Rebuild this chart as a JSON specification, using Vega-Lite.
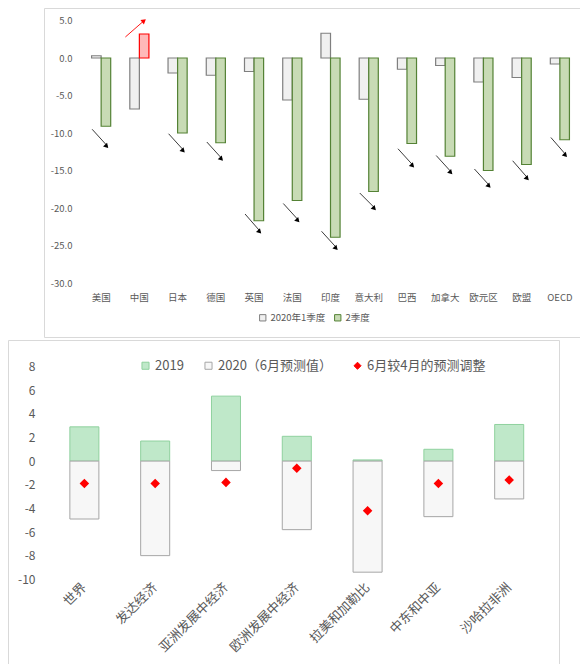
{
  "$schema": "https://vega.github.io/schema/vega-lite/v6.json",
  "padding": {"left": 7, "top": 7, "right": 0, "bottom": 0},
  "background": "white",
  "spacing": 1,
  "config": {
    "font": "Noto Sans CJK SC",
    "view": {"stroke": "#d9d9d9", "strokeWidth": 1},
    "axis": {"labelFont": "Noto Sans CJK SC", "labelColor": "#595959", "domain": false, "ticks": false, "tickSize": 0, "grid": false, "title": null, "labelOverlap": false},
    "axisY": {"labelOverlap": false},
    "axisQuantitative": {"labelOverlap": false},
    "legend": {"labelFont": "Noto Sans CJK SC", "labelColor": "#595959", "symbolType": "square", "symbolStrokeWidth": 1}
  },
  "resolve": {"scale": {"fill": "independent", "stroke": "independent", "shape": "independent"}, "legend": {"fill": "independent", "stroke": "independent", "shape": "independent"}},
  "vconcat": [
    {
      "spacing": 0,
      "hconcat": [
        {"width": 35, "height": 10, "data": {"values": []}, "mark": {"type": "point", "opacity": 0}, "encoding": {}, "view": {"stroke": null}},
        {
          "width": 537,
          "height": 329,
          "data": {"values": [
            {"country": "美国", "quarter": "2020年1季度", "value": 0.3},
            {"country": "美国", "quarter": "2季度", "value": -9.1},
            {"country": "中国", "quarter": "2020年1季度", "value": -6.8},
            {"country": "中国", "quarter": "2季度", "value": 3.2},
            {"country": "日本", "quarter": "2020年1季度", "value": -2.0},
            {"country": "日本", "quarter": "2季度", "value": -10.0},
            {"country": "德国", "quarter": "2020年1季度", "value": -2.3},
            {"country": "德国", "quarter": "2季度", "value": -11.3},
            {"country": "英国", "quarter": "2020年1季度", "value": -1.8},
            {"country": "英国", "quarter": "2季度", "value": -21.7},
            {"country": "法国", "quarter": "2020年1季度", "value": -5.6},
            {"country": "法国", "quarter": "2季度", "value": -19.0},
            {"country": "印度", "quarter": "2020年1季度", "value": 3.3},
            {"country": "印度", "quarter": "2季度", "value": -23.9},
            {"country": "意大利", "quarter": "2020年1季度", "value": -5.5},
            {"country": "意大利", "quarter": "2季度", "value": -17.8},
            {"country": "巴西", "quarter": "2020年1季度", "value": -1.5},
            {"country": "巴西", "quarter": "2季度", "value": -11.4},
            {"country": "加拿大", "quarter": "2020年1季度", "value": -1.0},
            {"country": "加拿大", "quarter": "2季度", "value": -13.1},
            {"country": "欧元区", "quarter": "2020年1季度", "value": -3.2},
            {"country": "欧元区", "quarter": "2季度", "value": -15.0},
            {"country": "欧盟", "quarter": "2020年1季度", "value": -2.6},
            {"country": "欧盟", "quarter": "2季度", "value": -14.2},
            {"country": "OECD", "quarter": "2020年1季度", "value": -0.8},
            {"country": "OECD", "quarter": "2季度", "value": -10.9}
          ]},
          "layer": [
            {
              "mark": {"type": "bar", "color": "#d9d9d9", "strokeWidth": 1, "width": {"band": 1}},
              "encoding": {
                "x": {"field": "country", "type": "nominal", "sort": null},
                "y": {"datum": 0, "type": "quantitative"},
                "y2": {"datum": 0}
              }
            },
            {
              "mark": {"type": "bar", "strokeWidth": 1.2},
              "encoding": {
                "x": {"field": "country", "type": "nominal", "sort": null,
                  "scale": {"paddingInner": 0, "paddingOuter": 0.5235, "align": 0.95},
                  "axis": {"labelAngle": 0, "labelAlign": "center", "labelBaseline": "top", "labelFontSize": 9.5, "offset": -45, "labelPadding": 0}},
                "xOffset": {"field": "quarter", "type": "nominal", "sort": ["2020年1季度", "2季度"], "scale": {"paddingInner": 0, "paddingOuter": 1.124}},
                "y": {"field": "value", "type": "quantitative",
                  "scale": {"domain": [-37.2, 6.667], "nice": false, "zero": false},
                  "axis": {"values": [5, 0, -5, -10, -15, -20, -25, -30], "labelExpr": "datum.value === 0 ? '0.0' : toString(datum.value) + '.0'", "offset": -32, "labelPadding": 4, "labelFontSize": 9.5, "labelOverlap": false}},
                "fill": {
                  "condition": {"test": "datum.country === '中国' && datum.quarter === '2季度'", "value": "#ffb8b8"},
                  "field": "quarter", "type": "nominal",
                  "scale": {"domain": ["2020年1季度", "2季度"], "range": ["#f0f0f0", "#c8dbb5"]},
                  "legend": {"orient": "none", "legendX": 250, "legendY": 305, "direction": "horizontal", "title": null, "labelFontSize": 9.5, "symbolSize": 40, "columnPadding": 6, "labelOffset": 3}
                },
                "stroke": {
                  "condition": {"test": "datum.country === '中国' && datum.quarter === '2季度'", "value": "#ff0000"},
                  "field": "quarter", "type": "nominal",
                  "scale": {"domain": ["2020年1季度", "2季度"], "range": ["#7f7f7f", "#548235"]},
                  "legend": {"orient": "none", "legendX": 250, "legendY": 305, "direction": "horizontal", "title": null, "labelFontSize": 9.5, "symbolSize": 40, "columnPadding": 6, "labelOffset": 3}
                }
              }
            },
            {
              "data": {"values": [
                {"country": "美国", "start": -9.5, "end": -11.7},
                {"country": "日本", "start": -10.1, "end": -12.3},
                {"country": "德国", "start": -11.2, "end": -13.4},
                {"country": "英国", "start": -20.8, "end": -23.1},
                {"country": "法国", "start": -19.4, "end": -21.6},
                {"country": "印度", "start": -23.1, "end": -25.3},
                {"country": "意大利", "start": -18.0, "end": -20.0},
                {"country": "巴西", "start": -12.1, "end": -14.3},
                {"country": "加拿大", "start": -13.0, "end": -15.2},
                {"country": "欧元区", "start": -14.8, "end": -17.0},
                {"country": "欧盟", "start": -13.7, "end": -16.0},
                {"country": "OECD", "start": -10.6, "end": -12.9}
              ]},
              "layer": [
                {
                  "mark": {"type": "rule", "color": "#262626", "strokeWidth": 0.9, "xOffset": -9, "x2Offset": 6},
                  "encoding": {
                    "x": {"field": "country", "type": "nominal", "sort": null},
                    "x2": {"field": "country"},
                    "y": {"field": "start", "type": "quantitative"},
                    "y2": {"field": "end"}
                  }
                },
                {
                  "mark": {"type": "point", "shape": "triangle", "filled": true, "color": "#000000", "opacity": 1, "size": 30, "angle": 137, "xOffset": 5},
                  "encoding": {
                    "x": {"field": "country", "type": "nominal", "sort": null},
                    "y": {"field": "end", "type": "quantitative"}
                  }
                }
              ]
            },
            {
              "data": {"values": [{"country": "中国", "start": 2.8, "end": 4.9}]},
              "layer": [
                {
                  "mark": {"type": "rule", "color": "#ff0000", "strokeWidth": 0.9, "xOffset": -14, "x2Offset": 4},
                  "encoding": {
                    "x": {"field": "country", "type": "nominal", "sort": null},
                    "x2": {"field": "country"},
                    "y": {"field": "start", "type": "quantitative"},
                    "y2": {"field": "end"}
                  }
                },
                {
                  "mark": {"type": "point", "shape": "triangle", "filled": true, "color": "#ff0000", "opacity": 1, "size": 30, "angle": 51, "xOffset": 4},
                  "encoding": {
                    "x": {"field": "country", "type": "nominal", "sort": null},
                    "y": {"field": "end", "type": "quantitative"}
                  }
                }
              ]
            }
          ]
        }
      ]
    },
    {
      "width": 551,
      "height": 326,
      "data": {"values": [
        {"region": "世界", "series": "2019", "value": 2.9},
        {"region": "世界", "series": "2020（6月预测值）", "value": -4.9},
        {"region": "世界", "series": "6月较4月的预测调整", "value": -1.9},
        {"region": "发达经济", "series": "2019", "value": 1.7},
        {"region": "发达经济", "series": "2020（6月预测值）", "value": -8.0},
        {"region": "发达经济", "series": "6月较4月的预测调整", "value": -1.9},
        {"region": "亚洲发展中经济", "series": "2019", "value": 5.5},
        {"region": "亚洲发展中经济", "series": "2020（6月预测值）", "value": -0.8},
        {"region": "亚洲发展中经济", "series": "6月较4月的预测调整", "value": -1.8},
        {"region": "欧洲发展中经济", "series": "2019", "value": 2.1},
        {"region": "欧洲发展中经济", "series": "2020（6月预测值）", "value": -5.8},
        {"region": "欧洲发展中经济", "series": "6月较4月的预测调整", "value": -0.6},
        {"region": "拉美和加勒比", "series": "2019", "value": 0.1},
        {"region": "拉美和加勒比", "series": "2020（6月预测值）", "value": -9.4},
        {"region": "拉美和加勒比", "series": "6月较4月的预测调整", "value": -4.2},
        {"region": "中东和中亚", "series": "2019", "value": 1.0},
        {"region": "中东和中亚", "series": "2020（6月预测值）", "value": -4.7},
        {"region": "中东和中亚", "series": "6月较4月的预测调整", "value": -1.9},
        {"region": "沙哈拉非洲", "series": "2019", "value": 3.1},
        {"region": "沙哈拉非洲", "series": "2020（6月预测值）", "value": -3.2},
        {"region": "沙哈拉非洲", "series": "6月较4月的预测调整", "value": -1.6}
      ]},
      "layer": [
        {
          "mark": {"type": "bar", "color": "#d9d9d9", "strokeWidth": 1, "width": {"band": 1}},
          "encoding": {
            "x": {"field": "region", "type": "nominal", "sort": null},
            "y": {"datum": 0, "type": "quantitative",
              "axis": {"values": [8, 6, 4, 2, 0, -2, -4, -6, -8, -10], "labelExpr": "toString(datum.value)", "offset": -31, "labelPadding": 4, "labelFontSize": 12, "labelOverlap": false}},
            "y2": {"datum": 0}
          }
        },
        {
          "transform": [{"filter": "datum.series !== '6月较4月的预测调整'"}],
          "mark": {"type": "bar", "strokeWidth": 1, "width": {"band": 0.41}},
          "encoding": {
            "x": {"field": "region", "type": "nominal", "sort": null,
              "scale": {"paddingInner": 0, "paddingOuter": 0.391, "align": 0.74},
              "axis": {"labelAngle": -45, "labelAlign": "right", "labelBaseline": "middle", "labelFontSize": 13, "offset": -83, "labelPadding": 2}},
            "y": {"field": "value", "type": "quantitative", "stack": null,
              "scale": {"domain": [-17.34, 10.25], "nice": false, "zero": false},
              "axis": {"values": [8, 6, 4, 2, 0, -2, -4, -6, -8, -10], "labelExpr": "toString(datum.value)", "offset": -31, "labelPadding": 4, "labelFontSize": 12, "labelOverlap": false}},
            "fill": {"field": "series", "type": "nominal",
              "scale": {"domain": ["2019", "2020（6月预测值）", "6月较4月的预测调整"], "range": ["#bfe8c9", "#f7f7f7", "#ff0000"]},
              "legend": {"orient": "none", "legendX": 131, "legendY": 19, "direction": "horizontal", "title": null, "labelFontSize": 13, "symbolSize": 50, "columnPadding": 18, "labelOffset": 3}},
            "stroke": {"field": "series", "type": "nominal",
              "scale": {"domain": ["2019", "2020（6月预测值）", "6月较4月的预测调整"], "range": ["#8fd19e", "#a6a6a6", "#ff0000"]},
              "legend": {"orient": "none", "legendX": 131, "legendY": 19, "direction": "horizontal", "title": null, "labelFontSize": 13, "symbolSize": 50, "columnPadding": 18, "labelOffset": 3}}
          }
        },
        {
          "transform": [{"filter": "datum.series === '6月较4月的预测调整'"}],
          "mark": {"type": "point", "filled": true, "opacity": 1, "size": 45},
          "encoding": {
            "x": {"field": "region", "type": "nominal", "sort": null},
            "y": {"field": "value", "type": "quantitative",
              "axis": {"values": [8, 6, 4, 2, 0, -2, -4, -6, -8, -10], "labelExpr": "toString(datum.value)", "offset": -31, "labelPadding": 4, "labelFontSize": 12, "labelOverlap": false}},
            "fill": {"field": "series", "type": "nominal",
              "scale": {"domain": ["2019", "2020（6月预测值）", "6月较4月的预测调整"], "range": ["#bfe8c9", "#f7f7f7", "#ff0000"]},
              "legend": {"orient": "none", "legendX": 131, "legendY": 19, "direction": "horizontal", "title": null, "labelFontSize": 13, "symbolSize": 50, "columnPadding": 18, "labelOffset": 3}},
            "stroke": {"field": "series", "type": "nominal",
              "scale": {"domain": ["2019", "2020（6月预测值）", "6月较4月的预测调整"], "range": ["#8fd19e", "#a6a6a6", "#ff0000"]},
              "legend": {"orient": "none", "legendX": 131, "legendY": 19, "direction": "horizontal", "title": null, "labelFontSize": 13, "symbolSize": 50, "columnPadding": 18, "labelOffset": 3}},
            "shape": {"field": "series", "type": "nominal",
              "scale": {"domain": ["2019", "2020（6月预测值）", "6月较4月的预测调整"], "range": ["square", "square", "diamond"]},
              "legend": {"orient": "none", "legendX": 131, "legendY": 19, "direction": "horizontal", "title": null, "labelFontSize": 13, "symbolSize": 50, "columnPadding": 18, "labelOffset": 3}}
          }
        }
      ]
    }
  ]
}
